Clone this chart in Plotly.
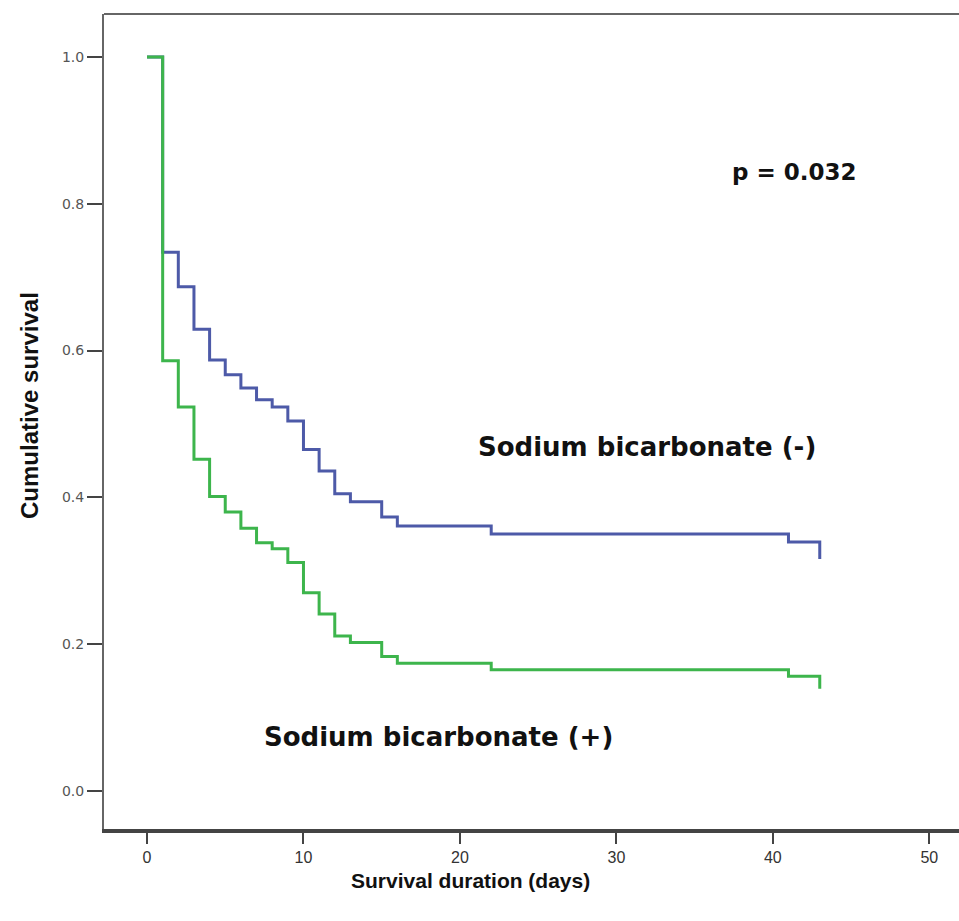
import plotly.graph_objects as go

# Kaplan-Meier step data
days_minus = [0, 1, 2, 3, 4, 5, 6, 7, 8, 9, 10, 11, 12, 13, 15, 16, 22, 41, 43]
surv_minus = [1.0, 0.734, 0.687, 0.629, 0.587, 0.567, 0.549, 0.533, 0.523, 0.504,
              0.465, 0.436, 0.405, 0.394, 0.373, 0.361, 0.350, 0.339, 0.316]

days_plus = [0, 1, 2, 3, 4, 5, 6, 7, 8, 9, 10, 11, 12, 13, 15, 16, 22, 41, 43]
surv_plus = [1.0, 0.586, 0.523, 0.452, 0.401, 0.380, 0.358, 0.338, 0.330, 0.311,
             0.270, 0.241, 0.211, 0.202, 0.183, 0.174, 0.165, 0.156, 0.139]

x_ticks = [0, 10, 20, 30, 40, 50]
y_ticks = [0.0, 0.2, 0.4, 0.6, 0.8, 1.0]
y_tick_labels = ["0.0", "0.2", "0.4", "0.6", "0.8", "1.0"]

label_minus = "Sodium bicarbonate (-)"
label_plus = "Sodium bicarbonate (+)"
p_text = "p = 0.032"
x_title = "Survival duration (days)"
y_title = "Cumulative survival"

BLUE = "#4d5aa8"
GREEN = "#3db54c"

fig = go.Figure()
fig.add_trace(go.Scatter(x=days_minus, y=surv_minus, mode="lines",
                         line=dict(color=BLUE, width=3, shape="hv"),
                         name=label_minus, showlegend=False))
fig.add_trace(go.Scatter(x=days_plus, y=surv_plus, mode="lines",
                         line=dict(color=GREEN, width=3, shape="hv"),
                         name=label_plus, showlegend=False))

label_font = "DejaVu Sans, sans-serif"
title_font = "Liberation Sans, Arial, sans-serif"

fig.add_annotation(x=41.4, y=0.843, text="<b>%s</b>" % p_text, showarrow=False,
                   font=dict(family=label_font, size=23, color="#111"))
fig.add_annotation(x=31.95, y=0.469, text="<b>%s</b>" % label_minus, showarrow=False,
                   font=dict(family=label_font, size=26, color="#111"))
fig.add_annotation(x=18.66, y=0.0736, text="<b>%s</b>" % label_plus, showarrow=False,
                   font=dict(family=label_font, size=26, color="#111"))

# axis titles (positioned as in the reference)
fig.add_annotation(xref="paper", yref="paper", x=0.429, y=-0.063, yanchor="middle",
                   text="<b>%s</b>" % x_title, showarrow=False,
                   font=dict(family=title_font, size=21, color="#111"))
fig.add_annotation(xref="paper", yref="paper", x=-0.088, y=0.52, xanchor="center",
                   yanchor="middle", textangle=-90,
                   text="<b>%s</b>" % y_title, showarrow=False,
                   font=dict(family=title_font, size=24, color="#111"))

# top frame line
fig.add_shape(type="line", xref="paper", yref="paper", x0=0, x1=1, y0=1, y1=1,
              line=dict(color="#666", width=2))

fig.update_layout(
    width=959, height=921,
    margin=dict(l=104, r=0, t=14, b=92),
    paper_bgcolor="white", plot_bgcolor="white",
    xaxis=dict(range=[-2.75, 51.9], tickvals=x_ticks, ticks="outside", ticklen=11,
               tickwidth=2, tickcolor="#444", showline=True, linecolor="#444",
               linewidth=4, showgrid=False, zeroline=False,
               tickfont=dict(family=title_font, size=16, color="#333")),
    yaxis=dict(range=[-0.052, 1.0586], tickvals=y_ticks, ticktext=y_tick_labels,
               ticks="outside", ticklen=15, tickwidth=1.5, tickcolor="#444",
               showline=True, linecolor="#666", linewidth=2, showgrid=False,
               zeroline=False,
               tickfont=dict(family=label_font, size=14, color="#555")),
)

fig.write_html("out.html", config={"displayModeBar": False},
               post_script="document.body.style.margin='0';")
